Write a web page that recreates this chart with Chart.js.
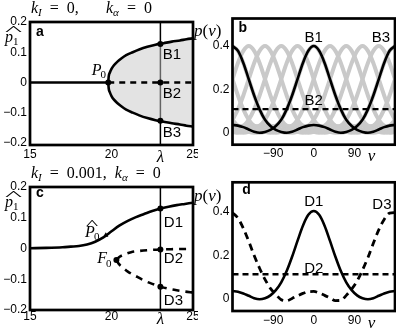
<!DOCTYPE html>
<html>
<head>
<meta charset="utf-8">
<script src="https://cdn.jsdelivr.net/npm/chart.js@4.4.1/dist/chart.umd.min.js"></script>
<style>
  body { margin: 0; background: #fff; }
  #fig { position: relative; width: 396px; height: 330px; overflow: hidden; font-family: "Liberation Serif", serif; }
  canvas { position: absolute; }
  .t { position: absolute; white-space: nowrap; font-size: 16px; line-height: 16px; color: #000; word-spacing: 4px; }
  .t sub { font-size: 11px; vertical-align: -3px; line-height: 0; }
  .hat { position: absolute; left: 0; top: -6px; font-style: normal; transform: scaleX(2.8); transform-origin: left; font-size: 13px; }
</style>
</head>
<body>
<div id="fig">
  <canvas id="ca" width="198" height="165" style="left:0;top:0"></canvas>
  <canvas id="cb" width="198" height="165" style="left:198px;top:0"></canvas>
  <canvas id="cc" width="198" height="165" style="left:0;top:165px"></canvas>
  <canvas id="cd" width="198" height="165" style="left:198px;top:165px"></canvas>

  <div class="t" style="left:31px;top:0"><i>k</i><sub><i>I</i></sub> = 0,</div>
  <div class="t" style="left:106px;top:0"><i>k</i><sub><i>α</i></sub> = 0</div>
  <div class="t" style="left:31px;top:165px"><i>k</i><sub><i>I</i></sub> = 0.001, <i>k</i><sub><i>α</i></sub> = 0</div>

  <div class="t" style="left:5px;top:29px"><span style="position:relative"><i>p</i><sub>1</sub><span class="hat">^</span></span></div>
  <div class="t" style="left:5px;top:194px"><span style="position:relative"><i>p</i><sub>1</sub><span class="hat">^</span></span></div>
  <div class="t" style="left:194px;top:23px;font-size:17px;word-spacing:0"><i>p</i>(<i>v</i>)</div>
  <div class="t" style="left:194px;top:188px;font-size:17px;word-spacing:0"><i>p</i>(<i>v</i>)</div>
</div>

<script>
// ---- panel a : k_I = 0 ----
const lamA0 = [15, 19.8];
const pA0 = [0, 0];
const lamA = [19.8, 19.83, 19.9, 20.0, 20.15, 20.35, 20.6, 20.9, 21.3, 21.7, 22.2, 22.7, 23.2, 23.7, 24.2, 24.6, 25];
const pAup = [0, 0.02, 0.033, 0.045, 0.057, 0.068, 0.079, 0.09, 0.1, 0.109, 0.118, 0.125, 0.13, 0.135, 0.139, 0.143, 0.146];
const pAdn = [0, -0.02, -0.033, -0.045, -0.057, -0.068, -0.079, -0.09, -0.1, -0.109, -0.118, -0.125, -0.13, -0.135, -0.139, -0.143, -0.146];
const lamAmid = [19.8, 25];
const pAmid = [0, 0];
const lamCut = 23;
const pB = [0.127, 0, -0.127];
const lamP0 = 19.8, pP0 = 0;

// ---- panel c : k_I = 0.001 ----
const lamC = [15, 16, 17, 17.5, 18, 18.5, 19, 19.5, 20, 20.5, 21, 21.5, 22, 22.5, 23, 23.5, 24, 24.5, 25];
const pC = [0.001, 0.002, 0.004, 0.006, 0.008, 0.013, 0.022, 0.036, 0.056, 0.075, 0.09, 0.102, 0.112, 0.122, 0.13, 0.136, 0.141, 0.145, 0.149];
const lamCu = [20.3, 20.5, 20.8, 21.2, 21.7, 22.3, 23, 24, 25];
const pCu = [-0.037, -0.027, -0.019, -0.012, -0.008, -0.005, -0.003, -0.002, -0.001];
const lamCd = [20.3, 20.45, 20.7, 21, 21.5, 22, 22.5, 23, 23.5, 24, 24.5, 25];
const pCd = [-0.037, -0.05, -0.062, -0.075, -0.09, -0.104, -0.115, -0.124, -0.131, -0.136, -0.14, -0.143];
const pD = [0.13, -0.003, -0.124];
const lamPh = 19.65, pPh = 0.043;
const lamF0 = 20.3, pF0 = -0.037;

// ---- panels b, d : profiles p(v) ----
const vGrid = [-180, -168, -156, -144, -132, -120, -108, -96, -84, -72, -60, -48, -36, -24, -12, 0,
  12, 24, 36, 48, 60, 72, 84, 96, 108, 120, 132, 144, 156, 168, 180];
const B1 = [0.036, 0.033, 0.026, 0.015, 0.005, 0.000, 0.004, 0.013, 0.031, 0.060, 0.108, 0.172, 0.247, 0.322, 0.378, 0.400,
  0.378, 0.322, 0.247, 0.172, 0.108, 0.060, 0.031, 0.013, 0.004, 0.000, 0.005, 0.015, 0.026, 0.033, 0.036];
const B3 = [0.400, 0.378, 0.322, 0.247, 0.172, 0.108, 0.060, 0.031, 0.013, 0.004, 0.000, 0.005, 0.015, 0.026, 0.033, 0.036,
  0.033, 0.026, 0.015, 0.005, 0.000, 0.004, 0.013, 0.031, 0.060, 0.108, 0.172, 0.247, 0.322, 0.378, 0.400];
const B2 = 0.109;
const grayShifts = [0, 3, 6, 9, 12, 15, 18, 21, 24, 27]; // grid steps of 12 deg, i.e. every 36 deg
const D1 = [0.036, 0.033, 0.025, 0.014, 0.003, -0.002, 0.003, 0.016, 0.040, 0.076, 0.128, 0.194, 0.267, 0.337, 0.387, 0.405,
  0.387, 0.337, 0.267, 0.194, 0.128, 0.076, 0.040, 0.016, 0.003, -0.002, 0.003, 0.014, 0.025, 0.033, 0.036];
const D3 = [0.397, 0.372, 0.325, 0.265, 0.200, 0.141, 0.090, 0.048, 0.020, -0.004, -0.009, 0.002, 0.014, 0.025, 0.033, 0.034,
  0.027, 0.016, 0.004, -0.008, -0.007, 0.016, 0.045, 0.082, 0.133, 0.190, 0.256, 0.318, 0.366, 0.395, 0.397];
const D2 = 0.113;

const lamTicks = [15, 20, 23, 25];
const pTicks = [-0.2, -0.1, 0, 0.1, 0.2];
const vTicks = [-90, 0, 90, 128];
const profTicks = [0, 0.2, 0.4];

const pts = (xs, ys) => xs.map((x, i) => ({ x: x, y: ys[i] }));
const flat = (xs, y) => xs.map(x => ({ x: x, y: y }));
// periodic copy of a profile moved by k grid steps
const rotate = (arr, k) => {
  const n = arr.length - 1;
  const out = [];
  for (let i = 0; i <= n; i++) out.push(arr[((i - k) % n + n) % n]);
  return out;
};
const fmt = v => v === 0 ? '0' : (v < 0 ? '\u2212' : '') + Math.abs(v);

const sans = { family: '"Liberation Sans", Arial, sans-serif', size: 12 };
const ital = { family: '"Liberation Serif", serif', size: 17, style: 'italic' };

// frame + text labels
const boxAndLabels = {
  id: 'boxAndLabels',
  afterDraw(chart, args, opts) {
    const { ctx, chartArea: a, scales } = chart;
    ctx.save();
    ctx.lineWidth = 2.7;
    ctx.strokeStyle = '#000';
    ctx.strokeRect(a.left, a.top, a.right - a.left, a.bottom - a.top);
    ctx.fillStyle = '#000';
    ctx.textBaseline = 'middle';
    (opts.labels || []).forEach(l => {
      const x = scales.x.getPixelForValue(l.x);
      const y = scales.y.getPixelForValue(l.y);
      ctx.font = l.font;
      if (!l.sub) {
        ctx.textAlign = 'center';
        ctx.fillText(l.text, x, y);
        return;
      }
      const w = ctx.measureText(l.text).width;
      ctx.font = '11px "Liberation Serif"';
      const sw = ctx.measureText(l.sub).width;
      const x0 = x - (w + sw) / 2;
      ctx.textAlign = 'left';
      ctx.font = l.font;
      ctx.fillText(l.text, x0, y);
      if (l.hat) {
        ctx.save();
        ctx.translate(x0 + 1, y - 8);
        ctx.scale(2, 1);
        ctx.font = '13px "Liberation Serif"';
        ctx.fillText('^', 0, 0);
        ctx.restore();
      }
      ctx.font = '11px "Liberation Serif"';
      ctx.fillText(l.sub, x0 + w - 1, y + 5);
    });
    ctx.restore();
  }
};
Chart.register(boxAndLabels);

function panel(id, c) {
  return new Chart(document.getElementById(id), {
    type: 'line',
    data: { datasets: c.datasets },
    options: {
      responsive: false,
      animation: false,
      layout: { padding: c.pad },
      plugins: {
        legend: { display: false },
        tooltip: { enabled: false },
        boxAndLabels: { labels: c.labels }
      },
      elements: { point: { radius: 0 }, line: { tension: 0 } },
      scales: {
        x: {
          type: 'linear', min: c.xMin, max: c.xMax,
          grid: { display: false, drawTicks: false }, border: { display: false },
          ticks: {
            autoSkip: false, maxRotation: 0, color: '#000', padding: c.xPad,
            font: ctx => (ctx.tick && ctx.tick.value === c.italTick) ? ital : sans,
            callback: v => v === c.italTick ? c.italText : fmt(v)
          },
          afterBuildTicks: s => { s.ticks = c.xTicks.map(v => ({ value: v })); },
          afterFit: s => { s.height = c.xH; s.paddingLeft = 0; s.paddingRight = 0; }
        },
        y: {
          type: 'linear', min: c.yMin, max: c.yMax,
          grid: { display: false, drawTicks: false }, border: { display: false },
          ticks: { autoSkip: false, color: '#000', padding: c.yPad, font: sans, callback: v => fmt(v) },
          afterBuildTicks: s => { s.ticks = c.yTicks.map(v => ({ value: v })); },
          afterFit: s => { s.width = c.yW; s.paddingTop = 0; s.paddingBottom = 0; }
        }
      }
    }
  });
}

const blackLine = (data, extra) => Object.assign({
  data: data, borderColor: '#000', borderWidth: 2.6, pointRadius: 0, fill: false,
  cubicInterpolationMode: 'monotone', order: 1
}, extra || {});
const dots = (data, style) => ({
  data: data, showLine: false, pointRadius: 3, pointStyle: style || 'circle',
  pointBackgroundColor: '#000', pointBorderColor: '#000', pointBorderWidth: 0, order: 0
});
const cutLine = { data: [{ x: lamCut, y: -0.3 }, { x: lamCut, y: 0.3 }], borderColor: '#000', borderWidth: 1.5, pointRadius: 0, order: 9 };
const lab = '15px "Liberation Sans", Arial, sans-serif';
const bold = 'bold 14px "Liberation Sans", Arial, sans-serif';
const pLab = 'italic 16px "Liberation Serif", serif';

// a
panel('ca', {
  pad: { top: 22, right: 5, left: 0, bottom: 0 }, yW: 30, xH: 20, xPad: 2, yPad: 3,
  xMin: 15, xMax: 25, yMin: -0.207, yMax: 0.2, xTicks: lamTicks, yTicks: pTicks,
  italTick: 23, italText: '\u03bb',
  datasets: [
    cutLine,
    { data: pts(lamA, pAup), borderWidth: 0, pointRadius: 0, fill: '+1', backgroundColor: 'rgba(200,200,200,0.5)', cubicInterpolationMode: 'monotone', order: 8 },
    { data: pts(lamA, pAdn), borderWidth: 0, pointRadius: 0, fill: false, cubicInterpolationMode: 'monotone', order: 8 },
    blackLine(pts(lamA0, pA0)),
    blackLine(pts(lamA, pAup)),
    blackLine(pts(lamA, pAdn)),
    blackLine(pts(lamAmid, pAmid), { borderWidth: 2.4, borderDash: [6, 5] }),
    dots([{ x: lamP0, y: pP0 }].concat(pB.map(p => ({ x: lamCut, y: p }))))
  ],
  labels: [
    { x: 15.6, y: 0.167, text: 'a', font: bold },
    { x: 19.25, y: 0.04, text: 'P', sub: '0', font: pLab },
    { x: 23.71, y: 0.091, text: 'B1', font: lab },
    { x: 23.71, y: -0.038, text: 'B2', font: lab },
    { x: 23.71, y: -0.167, text: 'B3', font: lab }
  ]
});

// c
panel('cc', {
  pad: { top: 22, right: 5, left: 0, bottom: 0 }, yW: 30, xH: 20, xPad: -1, yPad: 3,
  xMin: 15, xMax: 25, yMin: -0.2, yMax: 0.2, xTicks: lamTicks, yTicks: pTicks,
  italTick: 23, italText: '\u03bb',
  datasets: [
    cutLine,
    blackLine(pts(lamC, pC)),
    blackLine(pts(lamCu, pCu), { borderWidth: 2.6, borderDash: [7, 6] }),
    blackLine(pts(lamCd, pCd), { borderWidth: 2.6, borderDash: [7, 6] }),
    dots([{ x: lamF0, y: pF0 }].concat(pD.map(p => ({ x: lamCut, y: p })))),
    dots([{ x: lamPh, y: pPh }], 'triangle')
  ],
  labels: [
    { x: 15.6, y: 0.181, text: 'c', font: bold },
    { x: 18.85, y: 0.052, text: 'P', sub: '0', hat: true, font: pLab },
    { x: 19.6, y: -0.035, text: 'F', sub: '0', font: pLab },
    { x: 23.8, y: 0.083, text: 'D1', font: lab },
    { x: 23.8, y: -0.034, text: 'D2', font: lab },
    { x: 23.8, y: -0.171, text: 'D3', font: lab }
  ]
});

// b
const grayDs = grayShifts.map(k => ({
  data: pts(vGrid, rotate(B1, k)), borderColor: '#c9c9c9', borderWidth: 4, pointRadius: 0,
  cubicInterpolationMode: 'monotone', order: 5
}));
panel('cb', {
  pad: { top: 18.5, right: 1, left: 0, bottom: 0 }, yW: 34.5, xH: 20.3, xPad: 2, yPad: 3,
  xMin: -180, xMax: 180, yMin: -0.055, yMax: 0.527, xTicks: vTicks, yTicks: profTicks,
  italTick: 128, italText: 'v',
  datasets: grayDs.concat([
    blackLine(pts(vGrid, B1)),
    blackLine(pts(vGrid, B3)),
    blackLine(flat([-180, 180], B2), { borderWidth: 2.4, borderDash: [6, 4] })
  ]),
  labels: [
    { x: -157, y: 0.484, text: 'b', font: bold },
    { x: 0, y: 0.437, text: 'B1', font: lab },
    { x: 149, y: 0.437, text: 'B3', font: lab },
    { x: 0, y: 0.147, text: 'B2', font: lab }
  ]
});

// d
panel('cd', {
  pad: { top: 17.3, right: 1, left: 0, bottom: 0 }, yW: 34.5, xH: 19, xPad: 2, yPad: 3,
  xMin: -180, xMax: 180, yMin: -0.056, yMax: 0.537, xTicks: vTicks, yTicks: profTicks,
  italTick: 128, italText: 'v',
  datasets: [
    blackLine(pts(vGrid, D1)),
    blackLine(pts(vGrid, D3), { borderWidth: 2.8, borderDash: [7, 5] }),
    blackLine(flat([-180, 180], D2), { borderWidth: 2.4, borderDash: [6, 4] })
  ],
  labels: [
    { x: -149, y: 0.5, text: 'd', font: bold },
    { x: 0, y: 0.446, text: 'D1', font: lab },
    { x: 151, y: 0.432, text: 'D3', font: lab },
    { x: 0, y: 0.137, text: 'D2', font: lab }
  ]
});
</script>
</body>
</html>
